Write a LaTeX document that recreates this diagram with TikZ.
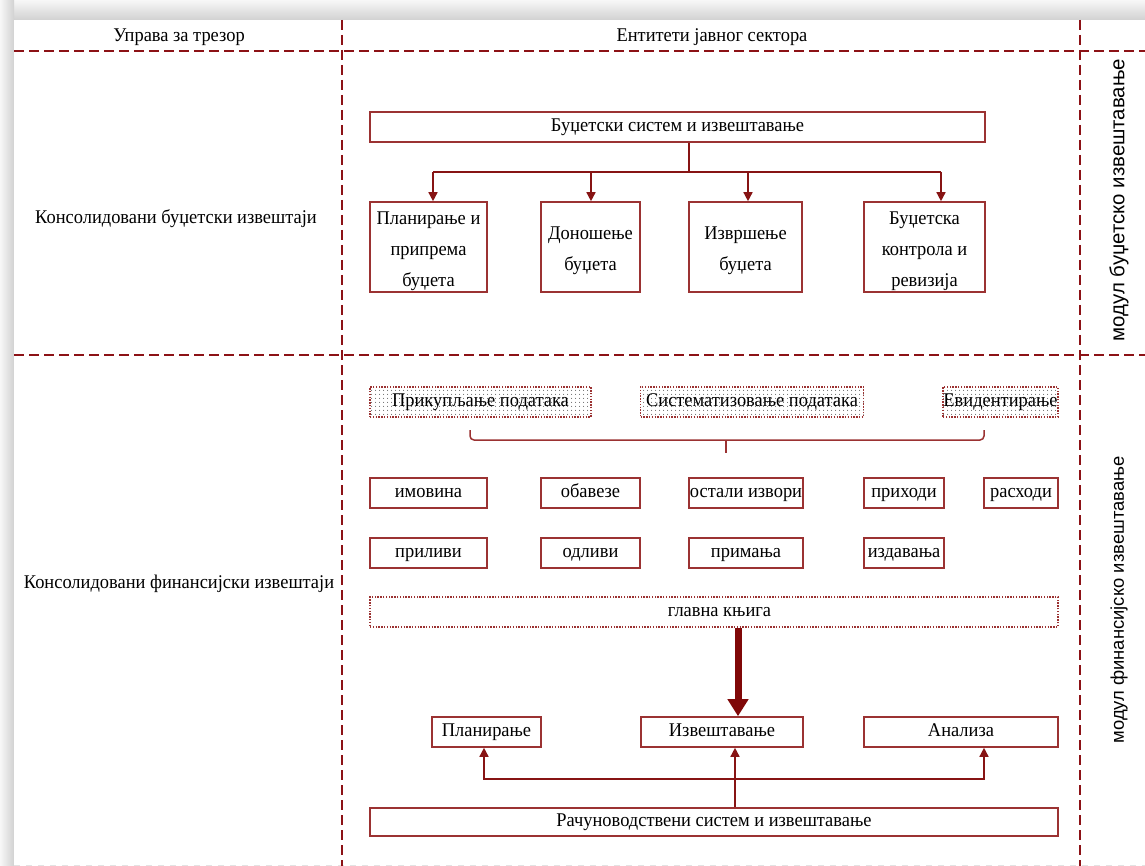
\documentclass[tikz,border=0pt]{standalone}
\usepackage{fontspec}
\setmainfont{Liberation Serif}[FakeStretch=0.95]
\setsansfont{Liberation Sans}
\usetikzlibrary{arrows.meta,patterns.meta}
\definecolor{sepred}{RGB}{140,18,22}
\definecolor{boxred}{RGB}{155,50,50}
\definecolor{linkred}{RGB}{135,20,20}
\definecolor{arrowred}{RGB}{128,8,8}
\newcommand\txtsize{\fontsize{19.4}{31}\selectfont}
\newcommand\firstline{\rule{0pt}{21pt}}
\begin{document}
\begin{tikzpicture}[x=1pt,y=-1pt,
  every node/.style={font=\txtsize, text=black},
  sep/.style={draw=sepred, line width=2.6pt, dash pattern=on 10pt off 5pt},
  frame/.style={draw=boxred, line width=1.6pt, inner sep=0pt, align=center},
  box/.style={frame, minimum height=30pt, text height=13.5pt, text depth=4.5pt},
  tallbox/.style={frame, minimum height=90pt},
  dotbox/.style={box, line width=1.3pt, dash pattern=on 1.4pt off 1.4pt},
  dotfill/.style={dotbox, pattern={Dots[distance=4pt,radius=0.6pt]}, pattern color=black!80},
  link/.style={draw=linkred, line width=1.5pt},
  tip/.style={-{Triangle[width=9pt,length=9pt]}},
  bigarrow/.style={draw=arrowred, line width=7pt, -{Triangle[width=20pt,length=17pt]}},
  vlabel/.style={rotate=90}]
\useasboundingbox (0,0) rectangle (1145,866);

% frame with soft grey edge
\shade[top color=gray!6, bottom color=gray!36] (0,0) rectangle (1145,20);
\shade[left color=gray!6, right color=gray!36] (0,0) rectangle (14,866);
\fill[white] (14,20) rectangle (1145,866);
\draw[gray!22, line width=1pt, dash pattern=on 6pt off 6pt] (14,865.5) -- (1145,865.5);

% table grid
\draw[sep] (14,51) -- (1145,51);
\draw[sep] (14,355) -- (1145,355);
\draw[sep] (342,20) -- (342,866);
\draw[sep] (1080,20) -- (1080,866);

% headings
\node (h1) at (179,37) {Управа за трезор};
\node (h2) at (712,37) {Ентитети јавног сектора};
\node (r1) at (176,219) {Консолидовани буџетски извештаји};
\node (r2) at (179,584) {Консолидовани финансијски извештаји};
\node[vlabel, font=\sffamily\fontsize{20.4}{24}\selectfont] (v1) at (1119,200) {модул буџетско извештавање};
\node[vlabel, font=\sffamily\fontsize{18.4}{24}\selectfont] (v2) at (1119,600) {модул финансијско извештавање};

% budget module
\node[box, minimum width=615pt] (bsys) at (677.5,127) {Буџетски систем и извештавање};
\node[tallbox, minimum width=117pt] (b1) at (428.5,247) {\firstline Планирање и\\припрема\\буџета};
\node[tallbox, minimum width=99pt] (b2) at (590.5,247) {\firstline Доношење\\буџета};
\node[tallbox, minimum width=113pt] (b3) at (745.5,247) {\firstline Извршење\\буџета};
\node[tallbox, minimum width=121pt] (b4) at (924.5,247) {\firstline Буџетска\\контрола и\\ревизија};

\coordinate (bus) at (689,172);
\coordinate (t1) at (433,172);
\coordinate (t2) at (591,172);
\coordinate (t3) at (748,172);
\coordinate (t4) at (941,172);
\draw[link] (bsys.south -| bus) -- (bus);
\draw[link] (t1) -- (t4);
\draw[link, tip] (t1) -- (t1 |- b1.north);
\draw[link, tip] (t2) -- (t2 |- b2.north);
\draw[link, tip] (t3) -- (t3 |- b3.north);
\draw[link, tip] (t4) -- (t4 |- b4.north);

% financial module
\node[dotfill, minimum width=221pt] (p1) at (480.5,402) {Прикупљање података};
\node[dotfill, minimum width=223pt] (p2) at (752,402) {Систематизовање података};
\node[dotfill, minimum width=115pt] (p3) at (1000.5,402) {Евидентирање};

\coordinate (brl) at (470,430);
\coordinate (brr) at (984,430);
\coordinate (brt) at (726,453);
\draw[link, draw=boxred, rounded corners=4pt] (brl) -- (470,440) -- (984,440) -- (brr);
\draw[link, draw=boxred] (brt |- 0,440) -- (brt);

\node[box, minimum width=117pt] (im)  at (428.5,493) {имовина};
\node[box, minimum width=99pt]  (ob)  at (590.5,493) {обавезе};
\node[box, minimum width=114pt] (ost) at (746,493) {остали извори};
\node[box, minimum width=80pt]  (pri) at (904,493) {приходи};
\node[box, minimum width=74pt]  (ras) at (1021,493) {расходи};

\node[box, minimum width=117pt] (pril) at (428.5,553) {приливи};
\node[box, minimum width=99pt]  (odl)  at (590.5,553) {одливи};
\node[box, minimum width=114pt] (prim) at (746,553) {примања};
\node[box, minimum width=80pt]  (izd)  at (904,553) {издавања};

\node[dotbox, minimum width=688pt] (gk) at (714,612) {\hspace*{11pt}главна књига};

\node[box, minimum width=109pt] (plan) at (486.5,732) {Планирање};
\node[box, minimum width=162pt] (izv)  at (722,732) {Извештавање};
\node[box, minimum width=194pt] (anal) at (961,732) {Анализа};

\node[box, minimum width=688pt, minimum height=28pt] (rach) at (714,822) {Рачуноводствени систем и извештавање};

\draw[bigarrow] ([xshift=24pt]gk.south) -- ([xshift=16pt]izv.north);

\coordinate (bl) at (484,779);
\coordinate (br) at (984,779);
\draw[link, {Triangle[width=9pt,length=9pt]}-{Triangle[width=9pt,length=9pt]}] (bl |- plan.south) -- (bl) -- (br) -- (br |- anal.south);
\draw[link, tip] ([xshift=21pt]rach.north) -- ([xshift=21pt]rach.north |- izv.south);

\end{tikzpicture}
\end{document}
